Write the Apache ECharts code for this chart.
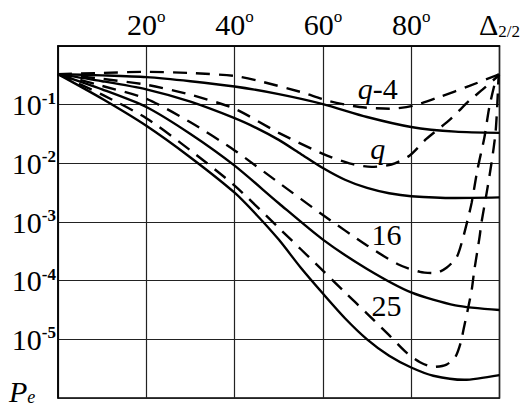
<!DOCTYPE html>
<html>
<head>
<meta charset="utf-8">
<script src="https://cdn.jsdelivr.net/npm/echarts@6/dist/echarts.min.js"></script>
<style>
  html, body { margin: 0; padding: 0; background: #fff; }
  #chart { width: 523px; height: 408px; }
</style>
</head>
<body>
<div id="chart"></div>
<script>
// angle (deg) ticks along the top, log10(Pe) ticks on the left
const angleTicks = [0, 20, 40, 60, 80, 100];
const logTicks = [0, -1, -2, -3, -4, -5, -6];

// curves: [angle, log10 Pe]
const q4Dashed = [[0,-0.48],[9.5,-0.46],[20,-0.44],[30,-0.46],[40,-0.51],[45.7,-0.6],[54.8,-0.78],[61.5,-0.94],[68.3,-1.04],[75.1,-1.07],[80.3,-1.02],[86.4,-0.87],[93.2,-0.68],[100,-0.48]];
const q4Solid = [[0,-0.48],[10,-0.5],[20,-0.53],[30,-0.6],[40,-0.69],[50,-0.82],[60,-0.99],[70,-1.21],[80,-1.38],[90,-1.46],[100,-1.48]];
const qDashed = [[0,-0.48],[10,-0.56],[20,-0.66],[30,-0.83],[40,-1.07],[50,-1.48],[60,-1.84],[66,-2.0],[71,-2.06],[75.5,-2.02],[79.6,-1.87],[83.5,-1.58],[88.7,-1.26],[93.2,-0.93],[96.2,-0.74],[100,-0.49]];
const qSolid = [[0,-0.48],[10,-0.6],[20,-0.74],[30,-0.95],[40,-1.23],[45,-1.4],[50,-1.6],[55,-1.84],[60,-2.08],[65,-2.28],[70,-2.42],[75,-2.51],[80,-2.56],[90,-2.59],[100,-2.58]];
const q16Dashed = [[0,-0.48],[10,-0.68],[20,-0.9],[30,-1.3],[40,-1.78],[50,-2.33],[60,-2.88],[70,-3.4],[77,-3.72],[82,-3.85],[85.5,-3.87],[88,-3.78],[90.3,-3.6],[91.6,-3.31],[92.8,-2.96],[93.7,-2.67],[95,-2.11],[96.6,-1.55],[97.7,-1.04],[99.3,-0.53],[99.7,-0.48]];
const q16Solid = [[0,-0.48],[10,-0.74],[20,-1.04],[30,-1.5],[40,-2.04],[50,-2.68],[60,-3.3],[70,-3.8],[80,-4.2],[90,-4.42],[100,-4.5]];
const q25Dashed = [[0,-0.48],[10,-0.83],[20,-1.23],[30,-1.78],[40,-2.38],[50,-3.1],[60,-3.83],[65,-4.2],[70,-4.56],[75,-4.93],[79,-5.23],[82,-5.39],[85,-5.47],[88,-5.43],[90,-5.3],[91.2,-5.06],[92,-4.78],[92.8,-4.5],[93.7,-4.16],[94.3,-3.82],[95.5,-3.25],[95.9,-3.02],[97.1,-2.5],[98.2,-1.99],[99.1,-1.48],[99.5,-1.0],[99.8,-0.5]];
const q25Solid = [[0,-0.48],[10,-0.9],[20,-1.36],[30,-1.9],[40,-2.5],[45,-2.88],[50,-3.3],[55,-3.78],[60,-4.22],[65,-4.64],[70,-5.0],[75,-5.28],[80,-5.48],[85,-5.62],[92,-5.69],[100,-5.61]];

// curve names written inside the plot: [angle, log10 Pe, text]
const curveLabels = [[72.4,-0.73,'{i|q}{n|-4}'],[72.4,-1.74,'{i|q}'],[74.4,-3.22,'{n|16}'],[74.4,-4.43,'{n|25}']];

const serif = 'Liberation Serif';

const chart = echarts.init(document.getElementById('chart'), null, { renderer: 'svg' });

const lineSeries = (data, dashed) => ({
  type: 'line',
  data: data,
  smooth: 0.25,
  showSymbol: false,
  silent: true,
  lineStyle: { color: '#000', width: 2.4, type: dashed ? [14, 9] : 'solid' },
});

chart.setOption({
  animation: false,
  backgroundColor: '#fff',
  grid: { left: 58, top: 46, right: 23, bottom: 10, show: true, borderColor: '#000', borderWidth: 1.5 },
  xAxis: {
    type: 'value',
    position: 'top',
    min: angleTicks[0],
    max: angleTicks[angleTicks.length - 1],
    interval: 20,
    axisLine: { show: true, lineStyle: { color: '#000', width: 1.5 } },
    axisTick: { show: false },
    splitLine: { show: true, lineStyle: { color: '#222', width: 1.2 } },
    axisLabel: {
      margin: 6,
      showMinLabel: true,
      showMaxLabel: true,
      formatter: v => {
        if (v === 0) return '';
        if (v === 100) return '{m|Δ}{sub|2/2}';
        return '{m|' + v + '}{sup|o}';
      },
      rich: {
        m: { fontFamily: serif, fontSize: 30, color: '#000', lineHeight: 32 },
        sup: { fontFamily: serif, fontSize: 17, color: '#000', lineHeight: 22, verticalAlign: 'top' },
        sub: { fontFamily: serif, fontSize: 17, color: '#000', lineHeight: 14, verticalAlign: 'bottom' },
      },
    },
  },
  yAxis: {
    type: 'value',
    min: logTicks[logTicks.length - 1],
    max: logTicks[0],
    interval: 1,
    axisLine: { show: true, lineStyle: { color: '#000', width: 1.5 } },
    axisTick: { show: false },
    splitLine: { show: true, lineStyle: { color: '#222', width: 1.2 } },
    axisLabel: {
      margin: 2,
      formatter: v => (v === 0 || v === -6) ? '' : '{m|10}{sup|' + v + '}',
      rich: {
        m: { fontFamily: serif, fontSize: 30, color: '#000', lineHeight: 30 },
        sup: { fontFamily: serif, fontSize: 17, color: '#000', fontWeight: 'bold', lineHeight: 22, verticalAlign: 'top' },
      },
    },
  },
  graphic: [{
    type: 'text',
    left: 9,
    top: 376,
    style: {
      text: '{p|P}{e|e}',
      rich: {
        p: { fontFamily: serif, fontStyle: 'italic', fontSize: 30, fill: '#000', lineHeight: 30 },
        e: { fontFamily: serif, fontStyle: 'italic', fontSize: 18, fill: '#000', lineHeight: 18, verticalAlign: 'bottom' },
      },
    },
  }],
  series: [
    lineSeries(q4Dashed, true),
    lineSeries(q4Solid, false),
    lineSeries(qDashed, true),
    lineSeries(qSolid, false),
    lineSeries(q16Dashed, true),
    lineSeries(q16Solid, false),
    lineSeries(q25Dashed, true),
    lineSeries(q25Solid, false),
    {
      type: 'scatter',
      data: curveLabels,
      symbolSize: 0,
      silent: true,
      itemStyle: { color: '#000', opacity: 1 },
      label: {
        show: true,
        position: 'inside',
        color: '#000',
        opacity: 1,
        formatter: p => p.data[2],
        rich: {
          i: { fontFamily: serif, fontStyle: 'italic', fontSize: 30, color: '#000' },
          n: { fontFamily: serif, fontSize: 30, color: '#000' },
        },
      },
    },
  ],
});
</script>
</body>
</html>
